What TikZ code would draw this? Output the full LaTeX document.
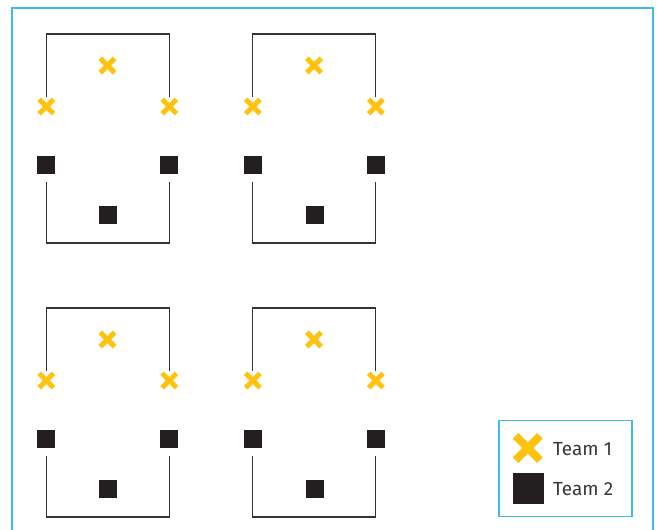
\documentclass[tikz,border=0pt]{standalone}
\usepackage{fontspec}
\setmainfont{Fira Sans}
\definecolor{frameblue}{HTML}{3DBDEB}
\definecolor{teamyellow}{HTML}{FFC20E}
\definecolor{teamdark}{HTML}{231F20}
\definecolor{wallgrey}{HTML}{333333}
\tikzset{
  wall/.style={draw=wallgrey, line width=1.3pt},
  xmark/.style={inner sep=0pt, minimum size=14pt},
  xline/.style={draw=teamyellow, line width=5pt, line cap=butt},
  sqmark/.style={fill=teamdark, inner sep=0pt, minimum size=18pt},
  bigx/.style={inner sep=0pt, minimum size=24pt},
  bigxline/.style={draw=teamyellow, line width=8pt, line cap=butt},
  bigsq/.style={fill=teamdark, inner sep=0pt, minimum size=31pt},
  legtext/.style={inner sep=0pt, anchor=base west, font=\fontsize{19}{21}\selectfont, text=teamdark!90}
}
\begin{document}
\begin{tikzpicture}[x=1pt,y=-1pt]
\useasboundingbox (0,0) rectangle (657,530);
% outer frame (open at bottom)
\draw[frameblue, line width=1.6pt] (12,535) -- (12,8) -- (653,8) -- (653,535);
\foreach \gx/\gy/\g in {0/0/a, 206.5/0/b, 0/274/c, 206.5/274/d}{
  \begin{scope}[shift={(\gx,\gy)}]
    % top bracket
    \draw[wall] (46.3,97) -- (46.3,34) -- (169.3,34) -- (169.3,97);
    % bottom bracket
    \draw[wall] (46.3,182) -- (46.3,243) -- (169.3,243) -- (169.3,182);
    % team 1 crosses
    \node[xmark] (\g-x1) at (107.5,65.5) {};
    \node[xmark] (\g-x2) at (46.3,106.5) {};
    \node[xmark] (\g-x3) at (169.3,106.5) {};
    \foreach \k in {1,2,3}{
      \draw[xline] (\g-x\k.north west) -- (\g-x\k.south east)
                   (\g-x\k.north east) -- (\g-x\k.south west);
    }
    % team 2 squares
    \node[sqmark] (\g-s1) at (46,165) {};
    \node[sqmark] (\g-s2) at (169.3,165) {};
    \node[sqmark] (\g-s3) at (108,215) {};
  \end{scope}
}
% legend
\node[draw=frameblue, line width=1.6pt, inner sep=0pt, minimum width=133pt, minimum height=96pt] (legend) at (565.5,468.5) {};
\node[bigx] (lx) at (527.7,448) {};
\draw[bigxline] (lx.north west) -- (lx.south east) (lx.north east) -- (lx.south west);
\node[bigsq] (ls) at (528.3,488.3) {};
\node[legtext] (t1) at (553,455.7) {Team 1};
\node[legtext] (t2) at (553,495) {Team 2};
\end{tikzpicture}
\end{document}
